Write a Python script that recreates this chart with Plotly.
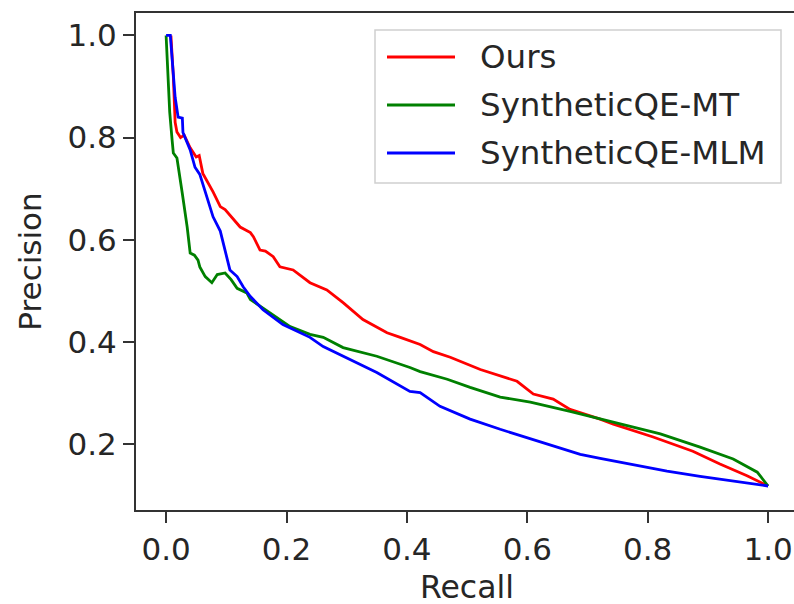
import plotly.graph_objects as go

series_names = ["Ours", "SyntheticQE-MT", "SyntheticQE-MLM"]
series_colors = ["#ff0000", "#008000", "#0000ff"]

ours_recall = [0.008, 0.012, 0.015, 0.018, 0.024, 0.03, 0.04, 0.05, 0.055, 0.061, 0.078,
               0.09, 0.098, 0.123, 0.14, 0.145, 0.156, 0.165, 0.178, 0.189, 0.211, 0.239,
               0.267, 0.294, 0.327, 0.367, 0.389, 0.422, 0.444, 0.472, 0.522, 0.583, 0.61,
               0.643, 0.671, 0.721, 0.743, 0.809, 0.875, 0.92, 0.965, 1.0]
ours_precision = [1.0, 0.92, 0.83, 0.811, 0.80, 0.805, 0.78, 0.762, 0.765, 0.73, 0.694,
                  0.665, 0.659, 0.625, 0.614, 0.606, 0.58, 0.578, 0.567, 0.547, 0.541, 0.516,
                  0.502, 0.477, 0.444, 0.418, 0.409, 0.395, 0.381, 0.37, 0.346, 0.323, 0.298,
                  0.288, 0.268, 0.249, 0.239, 0.214, 0.186, 0.161, 0.138, 0.118]

mt_recall = [0.0, 0.003, 0.006, 0.01, 0.012, 0.018, 0.023, 0.027, 0.035, 0.04, 0.047,
             0.053, 0.056, 0.065, 0.076, 0.085, 0.098, 0.108, 0.118, 0.134, 0.14, 0.173,
             0.206, 0.239, 0.261, 0.294, 0.35, 0.405, 0.422, 0.467, 0.505, 0.555, 0.605,
             0.671, 0.721, 0.743, 0.821, 0.887, 0.942, 0.982, 1.0]
mt_precision = [1.0, 0.93, 0.85, 0.795, 0.77, 0.76, 0.717, 0.69, 0.625, 0.574, 0.57,
                0.56, 0.547, 0.528, 0.516, 0.532, 0.535, 0.522, 0.505, 0.496, 0.483, 0.457,
                0.43, 0.415, 0.409, 0.389, 0.372, 0.35, 0.342, 0.327, 0.311, 0.292, 0.282,
                0.264, 0.249, 0.243, 0.22, 0.194, 0.171, 0.145, 0.118]

mlm_recall = [0.0, 0.007, 0.015, 0.02, 0.027, 0.028, 0.04, 0.048, 0.056, 0.068, 0.078,
              0.09, 0.101, 0.106, 0.118, 0.128, 0.14, 0.161, 0.194, 0.239, 0.261, 0.306,
              0.35, 0.405, 0.422, 0.455, 0.505, 0.555, 0.6, 0.643, 0.688, 0.721, 0.776,
              0.832, 0.887, 0.942, 1.0]
mlm_precision = [1.0, 1.0, 0.879, 0.84, 0.838, 0.81, 0.776, 0.742, 0.728, 0.684, 0.645,
                 0.617, 0.561, 0.541, 0.528, 0.508, 0.489, 0.463, 0.434, 0.409, 0.391, 0.366,
                 0.34, 0.303, 0.301, 0.274, 0.249, 0.229, 0.212, 0.196, 0.18, 0.172, 0.16,
                 0.147, 0.137, 0.128, 0.118]

tick_vals = [0.0, 0.2, 0.4, 0.6, 0.8, 1.0]
tick_text = ["0.0", "0.2", "0.4", "0.6", "0.8", "1.0"]
y_tick_vals = [0.2, 0.4, 0.6, 0.8, 1.0]
y_tick_text = ["0.2", "0.4", "0.6", "0.8", "1.0"]
x_title = "Recall"
y_title = "Precision"

FONT = "DejaVu Sans"
TXT = "#262626"

fig = go.Figure()
data = [(ours_recall, ours_precision), (mt_recall, mt_precision), (mlm_recall, mlm_precision)]
for (rx, py), name, col in zip(data, series_names, series_colors):
    fig.add_trace(go.Scatter(x=rx, y=py, mode="lines", name=name,
                             line=dict(color=col, width=2.8), showlegend=False))

# plot area spans 136..800 px (664 px) and 13..510 px (497 px); window crops at 794 like the reference
PW = 664.0
PH = 497.0
def px(xp):
    return (xp - 136) / PW
def py_(yp):
    return (510 - yp) / PH

# legend drawn manually (matplotlib style)
shapes = [dict(type="rect", xref="paper", yref="paper", x0=px(375), x1=px(781), y0=py_(183), y1=py_(30),
               line=dict(color="#d0d0d0", width=1.5), fillcolor="rgba(255,255,255,0.8)", layer="above")]
annotations = []
leg_rows = [57, 105, 153]
for name, col, row in zip(series_names, series_colors, leg_rows):
    yy = py_(row)
    shapes.append(dict(type="line", xref="paper", yref="paper", x0=px(387), x1=px(455), y0=yy, y1=yy,
                       line=dict(color=col, width=2.8), layer="above"))
    annotations.append(dict(xref="paper", yref="paper", x=px(478), y=yy, text=name, showarrow=False,
                            xanchor="left", yanchor="middle", font=dict(family=FONT, size=32.5, color=TXT)))

# x-axis title (placed as in the reference, below the tick labels)
annotations.append(dict(xref="paper", yref="paper", x=px(467), y=py_(587), text=x_title, showarrow=False,
                        xanchor="center", yanchor="middle", font=dict(family=FONT, size=31.5, color=TXT)))

fig.update_layout(
    width=800, height=604,
    margin=dict(l=136, r=0, t=13, b=94, autoexpand=False),
    paper_bgcolor="white", plot_bgcolor="white",
    font=dict(family=FONT, size=31, color=TXT),
    shapes=shapes, annotations=annotations,
    xaxis=dict(range=[-0.05, 1.053], tickvals=tick_vals, ticktext=tick_text,
               showgrid=False, zeroline=False, showline=True, linecolor="#333333", linewidth=2,
               mirror=True, ticks="outside", ticklen=11, tickwidth=2, tickcolor="#333333",
               tickfont=dict(family=FONT, size=31, color=TXT)),
    yaxis=dict(range=[0.071, 1.044], tickvals=y_tick_vals, ticktext=y_tick_text,
               showgrid=False, zeroline=False, showline=True, linecolor="#333333", linewidth=2,
               mirror=False, ticks="outside", ticklen=11, tickwidth=2, tickcolor="#333333",
               tickfont=dict(family=FONT, size=31, color=TXT),
               title=dict(text=y_title, font=dict(family=FONT, size=31, color=TXT), standoff=17)),
)

fig.write_html("out.html", config={"displayModeBar": False},
               post_script="document.body.style.margin='0px';document.body.style.overflow='hidden';")
